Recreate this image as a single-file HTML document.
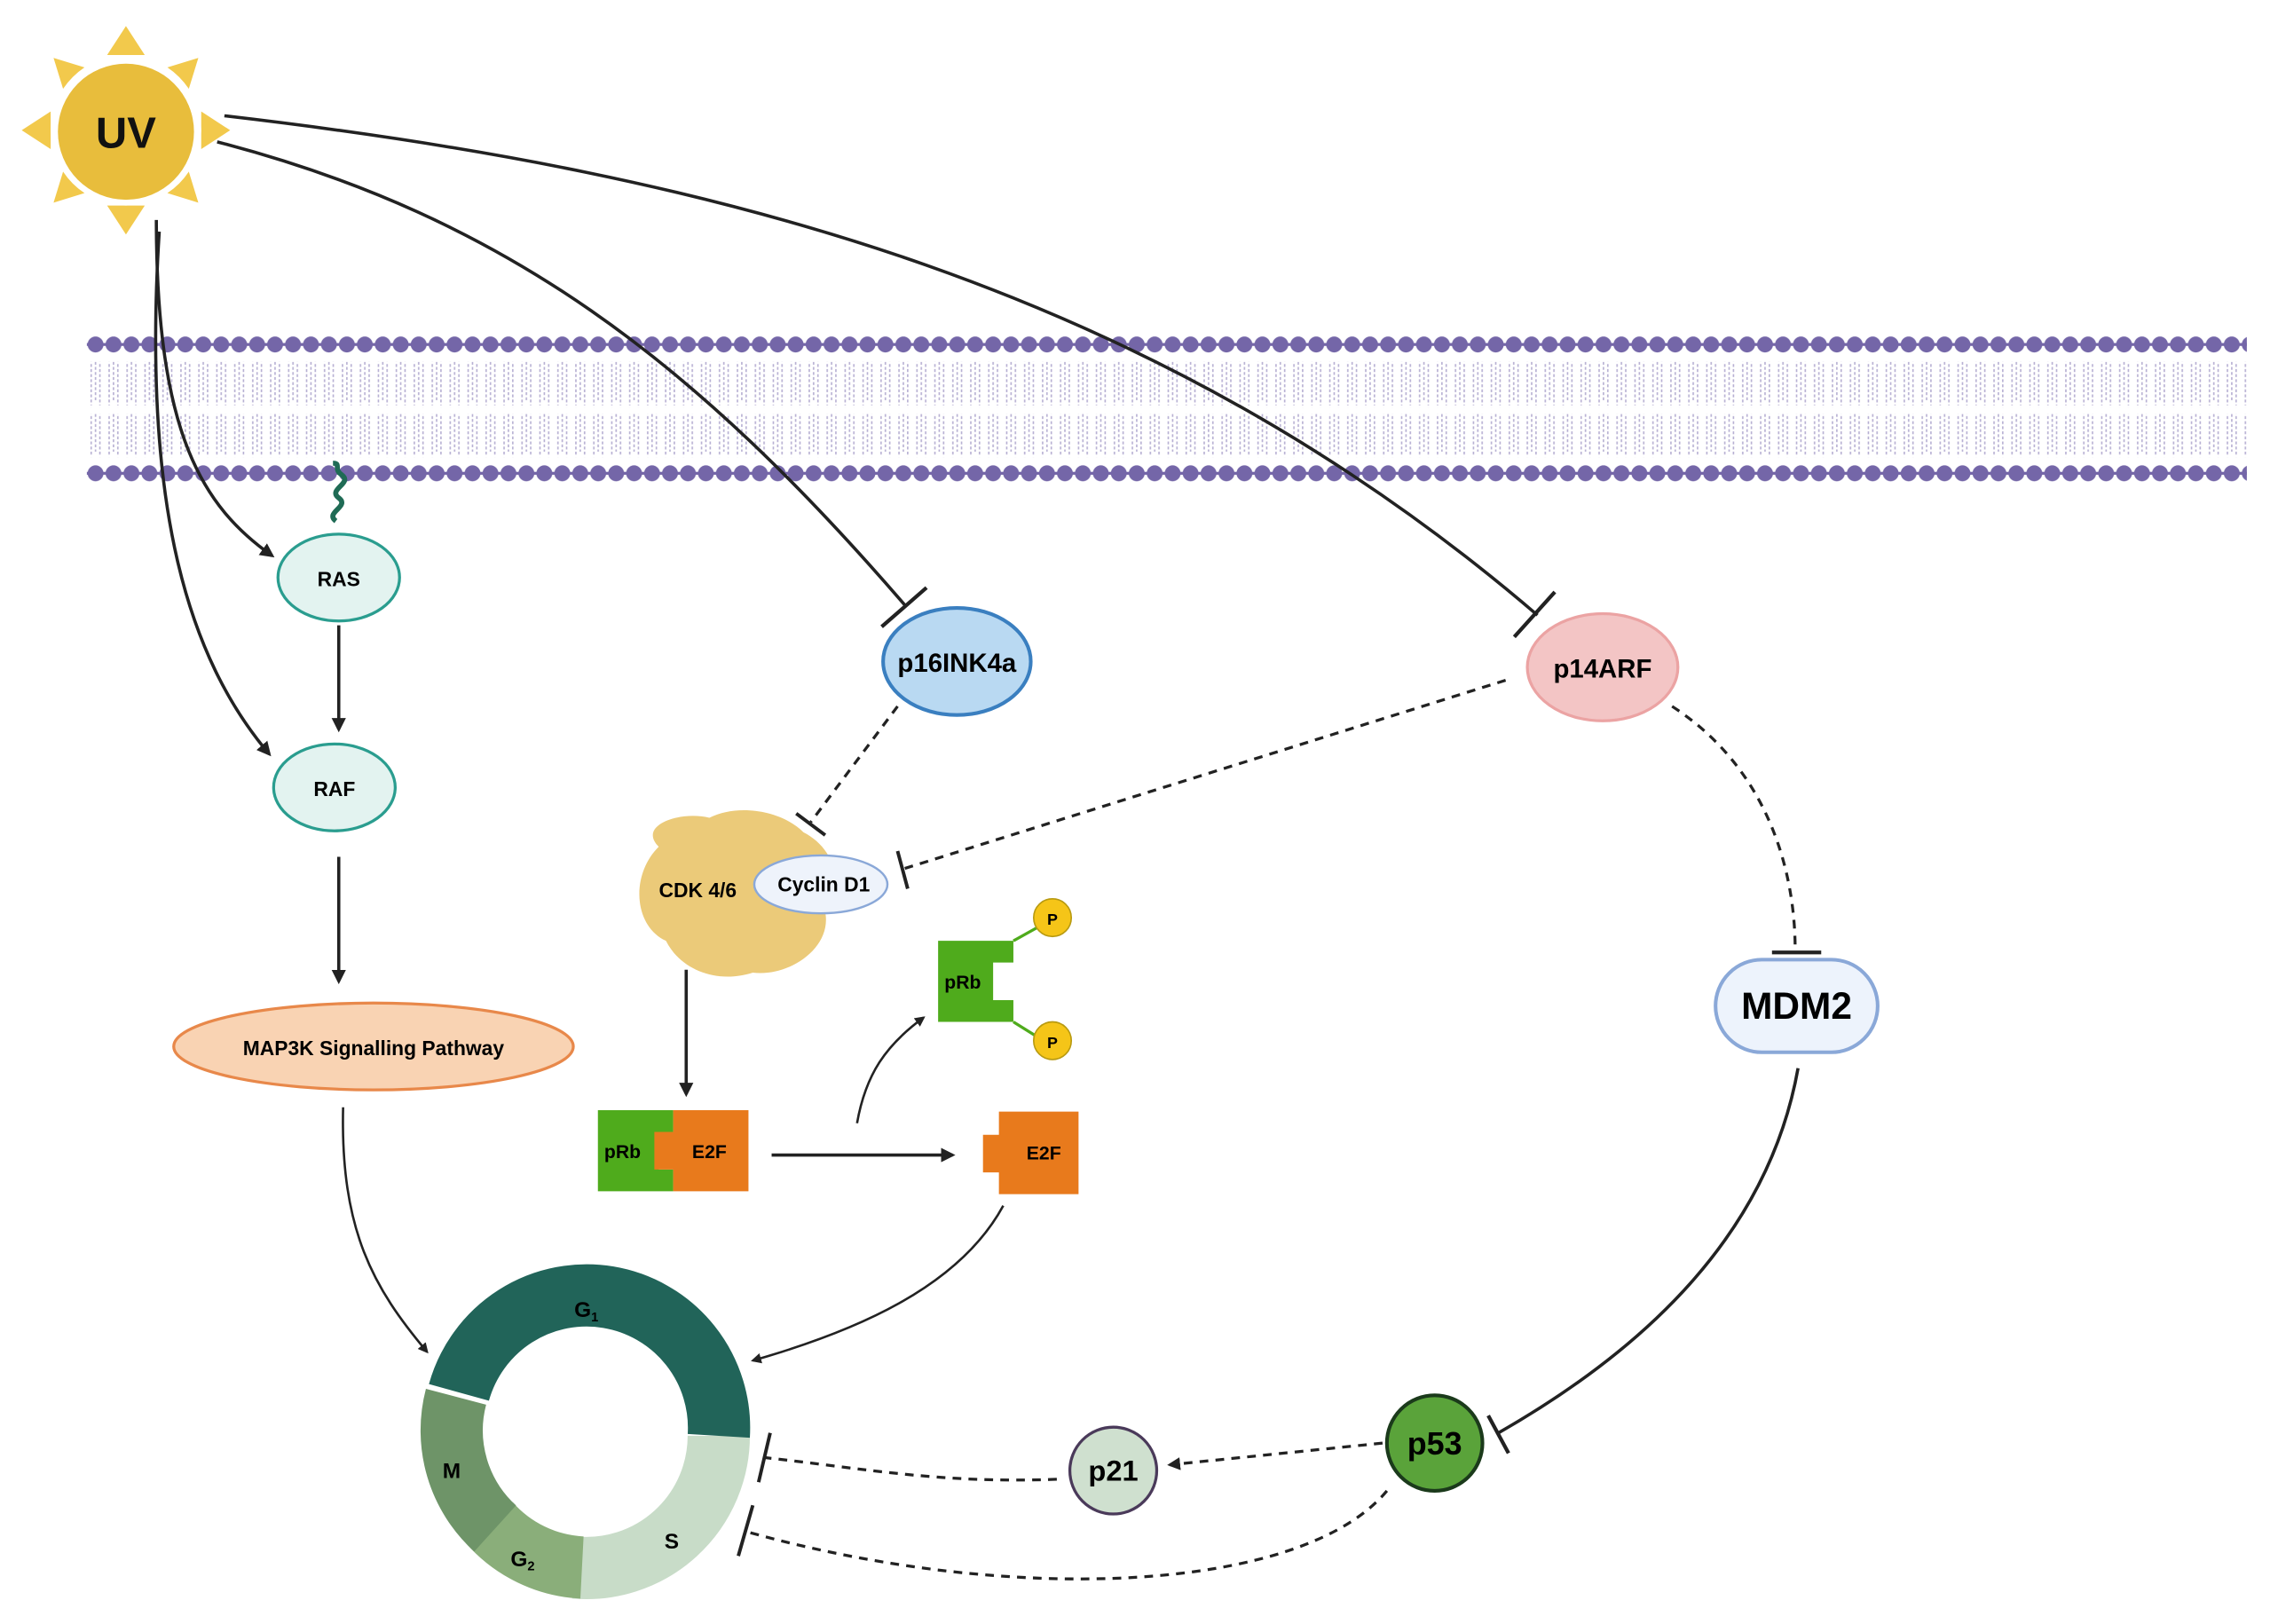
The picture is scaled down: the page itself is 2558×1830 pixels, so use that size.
<!DOCTYPE html>
<html><head><meta charset="utf-8"><style>html,body{margin:0;padding:0;background:#fff}svg{display:block}text{font-family:"Liberation Sans",sans-serif;font-weight:bold}</style></head><body>
<svg width="2558" height="1830" viewBox="0 0 1568 1122" preserveAspectRatio="none" xmlns="http://www.w3.org/2000/svg">
<defs>
<marker id="ah" viewBox="0 0 10 10" refX="8" refY="5" markerWidth="4.5" markerHeight="4.5" orient="auto"><path d="M0,0L10,5L0,10z" fill="#222"/></marker>
<pattern id="heads1" x="60" y="228" width="12.4" height="20" patternUnits="userSpaceOnUse"><circle cx="6" cy="10" r="5.5" fill="#7466a8"/></pattern>
<pattern id="heads2" x="60" y="317" width="12.4" height="20" patternUnits="userSpaceOnUse"><circle cx="6" cy="10" r="5.5" fill="#7466a8"/></pattern>
<pattern id="tails" x="60" y="248" width="12.4" height="34" patternUnits="userSpaceOnUse"><path d="M3,0V32M6,2V30M9,0V32" stroke="#a59cc8" stroke-width="1" stroke-dasharray="2,1.5"/></pattern>
<pattern id="tails2" x="60" y="284" width="12.4" height="32" patternUnits="userSpaceOnUse"><path d="M3,0V30M6,2V28M9,0V30" stroke="#a59cc8" stroke-width="1" stroke-dasharray="2,1.5"/></pattern>
</defs>
<!-- membrane -->
<rect x="60" y="237" width="1492" height="2" fill="#7466a8"/>
<rect x="60" y="326" width="1492" height="2" fill="#7466a8"/>
<rect x="60" y="228" width="1492" height="20" fill="url(#heads1)"/>
<rect x="60" y="317" width="1492" height="20" fill="url(#heads2)"/>
<rect x="60" y="250" width="1492" height="32" fill="url(#tails)" opacity=".8"/>
<rect x="60" y="286" width="1492" height="30" fill="url(#tails2)" opacity=".8"/>
<!-- sun -->
<g fill="#f2c94c">
<path d="M87,18L100,38H74z"/><path d="M87,162L100,142H74z"/><path d="M15,90L35,77V103z"/><path d="M159,90L139,77V103z"/>
<path d="M37,40L63,48L45,66z"/><path d="M137,40L111,48L129,66z"/><path d="M37,140L63,132L45,114z"/><path d="M137,140L111,132L129,114z"/>
</g>
<circle cx="87" cy="90" r="52" fill="#fff"/>
<circle cx="87" cy="91" r="47" fill="#e8bd3c"/>
<text x="87" y="102" font-size="30" text-anchor="middle" fill="#111">UV</text>
<!-- connectors solid -->
<g fill="none" stroke="#222" stroke-width="2.2">
<path d="M108,152C108,300 140,350 188,384" marker-end="url(#ah)"/>
<path d="M110,160C98,350 130,455 186,521" marker-end="url(#ah)"/>
<path d="M150,98C350,150 480,250 625,418"/>
<path d="M155,80C500,120 800,200 1062,425"/>
<path d="M234,432V504" marker-end="url(#ah)"/>
<path d="M234,592V678" marker-end="url(#ah)"/>
<path d="M237,765C235,850 258,890 295,934" stroke-width="1.6" marker-end="url(#ah)"/>
<path d="M474,670V756" marker-end="url(#ah)"/>
<path d="M533,798H658" marker-end="url(#ah)"/>
<path d="M592,776C598,742 612,722 638,703" stroke-width="1.6" marker-end="url(#ah)"/>
<path d="M693,833C662,890 590,920 520,940" stroke-width="1.6" marker-end="url(#ah)"/>
<path d="M1242,738C1222,850 1140,930 1035,990"/>
</g>
<g stroke="#222" stroke-width="2.6">
<path d="M609,433L640,406"/><path d="M1046,440L1074,409"/>
<path d="M1224,658H1258"/><path d="M1028,978L1042,1004"/>
</g>
<!-- dashed -->
<g fill="none" stroke="#222" stroke-width="2" stroke-dasharray="6,5">
<path d="M620,488L560,568"/>
<path d="M1040,470L625,600"/>
<path d="M1155,488C1220,530 1240,600 1240,656"/>
<path d="M955,997L808,1012" marker-end="url(#ah)"/>
<path d="M730,1022C650,1025 600,1015 528,1007"/>
<path d="M958,1030C900,1100 700,1110 515,1058"/>
</g>
<g stroke="#222" stroke-width="2.4">
<path d="M550,562L570,577"/><path d="M620,588L627,614"/>
<path d="M532,990L524,1024"/><path d="M520,1040L510,1075"/>
</g>
<!-- nodes -->
<path d="M232,360c-8,-6 10,-10 2,-16c-8,-6 10,-10 2,-16c-6,-4 0,-8 -6,-8" fill="none" stroke="#1f6b55" stroke-width="3.5"/>
<ellipse cx="234" cy="399" rx="42" ry="30" fill="#e3f3f0" stroke="#2a9d8f" stroke-width="2"/>
<text x="234" y="405" font-size="14" text-anchor="middle">RAS</text>
<ellipse cx="231" cy="544" rx="42" ry="30" fill="#e3f3f0" stroke="#2a9d8f" stroke-width="2"/>
<text x="231" y="550" font-size="14" text-anchor="middle">RAF</text>
<ellipse cx="258" cy="723" rx="138" ry="30" fill="#f9d3b3" stroke="#e8884a" stroke-width="2"/>
<text x="258" y="729" font-size="14" text-anchor="middle">MAP3K Signalling Pathway</text>
<ellipse cx="661" cy="457" rx="51" ry="37" fill="#b9d9f2" stroke="#3a7fc0" stroke-width="2.5"/>
<text x="661" y="464" font-size="18" text-anchor="middle">p16INK4a</text>
<ellipse cx="1107" cy="461" rx="52" ry="37" fill="#f3c5c5" stroke="#eba3a3" stroke-width="2"/>
<text x="1107" y="468" font-size="18" text-anchor="middle">p14ARF</text>
<rect x="1185" y="663" width="112" height="64" rx="32" fill="#edf3fc" stroke="#8aa8d8" stroke-width="2.5"/>
<text x="1241" y="704" font-size="26" text-anchor="middle">MDM2</text>
<circle cx="991" cy="997" r="33" fill="#5aa33a" stroke="#1b3a1b" stroke-width="2.5"/>
<text x="991" y="1005" font-size="22" text-anchor="middle">p53</text>
<circle cx="769" cy="1016" r="30" fill="#cfe0cf" stroke="#4a3a5a" stroke-width="2"/>
<text x="769" y="1023" font-size="20" text-anchor="middle">p21</text>
<!-- CDK blob -->
<path d="M455,585C440,570 470,560 490,565C510,555 540,560 555,575C575,585 585,610 570,630C575,655 545,675 520,672C495,680 470,670 460,650C438,640 435,605 455,585z" fill="#e9c46a" opacity=".9"/>
<text x="482" y="620" font-size="14" text-anchor="middle">CDK 4/6</text>
<ellipse cx="567" cy="611" rx="46" ry="20" fill="#eef3fb" stroke="#8aa8d8" stroke-width="1.5"/>
<text x="569" y="616" font-size="14" text-anchor="middle">Cyclin D1</text>
<!-- pRb/E2F -->
<path d="M413,767H465V782H455V808H465V823H413z" fill="#4fab1c"/>
<path d="M465,767H517V823H465V808H452V782H465z" fill="#e87a1c"/>
<text x="430" y="800" font-size="13" text-anchor="middle">pRb</text>
<text x="490" y="800" font-size="13" text-anchor="middle">E2F</text>
<path d="M690,768H745V825H690V810H679V784H690z" fill="#e87a1c"/>
<text x="721" y="801" font-size="13" text-anchor="middle">E2F</text>
<path d="M700,650L718,640M700,706L716,716" stroke="#4fab1c" stroke-width="2"/>
<path d="M648,650H700V665H686V691H700V706H648z" fill="#4fab1c"/>
<text x="665" y="683" font-size="13" text-anchor="middle">pRb</text>
<circle cx="727" cy="634" r="13" fill="#f5c518" stroke="#b89a10"/><text x="727" y="639" font-size="11" text-anchor="middle">P</text>
<circle cx="727" cy="719" r="13" fill="#f5c518" stroke="#b89a10"/><text x="727" y="724" font-size="11" text-anchor="middle">P</text>
<!-- cell cycle ring -->
<g fill="none" stroke-width="43">
<path d="M496.5,992A91.5,91.5 0 0 1 397,1083" stroke="#c8dcc8"/>
<path d="M402,1083A91.5,91.5 0 0 1 338,1052" stroke="#8aae7a"/>
<path d="M342,1056A91.5,91.5 0 0 1 315,965" stroke="#6e9468"/>
<path d="M317,962A91.5,91.5 0 0 1 496.5,992" stroke="#216459"/>
</g>
<text x="405" y="910" font-size="15" text-anchor="middle">G<tspan font-size="9" dy="3">1</tspan></text>
<text x="312" y="1021" font-size="15" text-anchor="middle">M</text>
<text x="361" y="1082" font-size="15" text-anchor="middle">G<tspan font-size="9" dy="3">2</tspan></text>
<text x="464" y="1070" font-size="15" text-anchor="middle">S</text>
</svg>
</body></html>
